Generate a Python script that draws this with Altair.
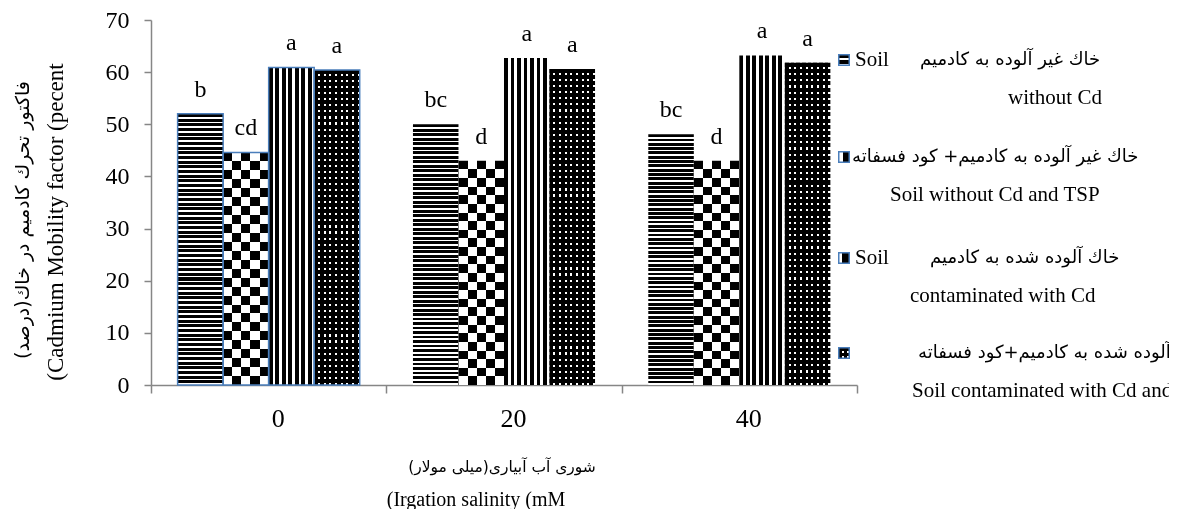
import altair as alt
import pandas as pd

# ---------------- data ----------------
groups = ["0", "20", "40"]
series_ids = ["s1", "s2", "s3", "s4"]
s1_values = [52.0, 50.0, 48.1]
s2_values = [44.6, 43.0, 43.0]
s3_values = [60.9, 62.7, 63.2]
s4_values = [60.4, 60.6, 61.8]
s1_letters = ["b", "bc", "bc"]
s2_letters = ["cd", "d", "d"]
s3_letters = ["a", "a", "a"]
s4_letters = ["a", "a", "a"]
y_ticks = [0, 10, 20, 30, 40, 50, 60, 70]

legend_en1 = ["Soil", "", "Soil", ""]
legend_fa1 = [
    "خاك غير آلوده به كادميم",
    "خاك غير آلوده به كادميم+ كود فسفاته",
    "خاك آلوده شده به كادميم",
    "خاك آلوده شده به كادميم+كود فسفاته",
]
legend_line2 = [
    "without Cd",
    "Soil without Cd and TSP",
    "contaminated with Cd",
    "Soil contaminated with Cd and TSP",
]
y_title = ["فاكتور تحرك كادميم در خاك(درصد)", "(Cadmium Mobility factor (pecent"]
x_title = ["شوری آب آبیاری(میلی مولار)", "(Irgation salinity (mM"]

rows = []
for vals, lets, sid in [(s1_values, s1_letters, "s1"), (s2_values, s2_letters, "s2"),
                        (s3_values, s3_letters, "s3"), (s4_values, s4_letters, "s4")]:
    for g, v, l in zip(groups, vals, lets):
        rows.append({"group": g, "series": sid, "value": v, "letter": l})
df = pd.DataFrame(rows)

# ---------------- pattern gradients ----------------
def stripes(periods, dark_frac, direction, dark="#000000", light="#ffffff", dark_first=True):
    stops = []
    p = 1.0 / periods
    pos = 0.0
    c1, c2 = (dark, light) if dark_first else (light, dark)
    while pos < 1.0 - 1e-9:
        a = pos
        b = min(pos + p * dark_frac, 1.0)
        c = min(pos + p, 1.0)
        stops += [(a, c1), (b, c1), (b, c2), (c, c2)]
        pos += p
    grad = {"gradient": "linear",
            "stops": [{"offset": round(o, 5), "color": col} for o, col in stops]}
    if direction == "h":
        grad.update(x1=0, y1=0, x2=0, y2=1)
    else:
        grad.update(x1=0, y1=0, x2=1, y2=0)
    return grad

G1 = stripes(58, 0.65, "h")
G2A = stripes(2.5, 0.5, "v")
G2B = stripes(13, 0.5, "h")
G3 = stripes(7, 0.6, "v")
G4A = stripes(8, 0.65, "v")
G4B = stripes(52, 0.65, "h")

FONT = "Liberation Serif, DejaVu Sans"
FA_FONT = "DejaVu Sans"
AX = "#868686"
BLUE = "#4a7ebb"

base = alt.Chart(df).encode(
    x=alt.X("group:N", sort=groups,
            scale=alt.Scale(domain=groups, paddingInner=0, paddingOuter=0),
            axis=alt.Axis(title=None, labelAngle=0, labelFontSize=26, labelFont=FONT,
                          labelColor="black", labelPadding=12, labelOffset=9,
                          tickBand="extent", tickSize=8, tickColor=AX, tickWidth=1.5,
                          domainColor=AX, domainWidth=1.5)),
    xOffset=alt.XOffset("series:N",
                        scale=alt.Scale(domain=series_ids, paddingInner=0, paddingOuter=0.585)),
    y=alt.Y("value:Q", scale=alt.Scale(domain=[0, 70], nice=False, zero=True),
            axis=alt.Axis(title=None, values=y_ticks, grid=False, labelFontSize=24,
                          labelFont=FONT, labelColor="black", labelPadding=15,
                          tickSize=7, tickColor=AX, tickWidth=1.5,
                          domainColor=AX, domainWidth=1.5)),
)

def sel(sid):
    return base.transform_filter(alt.datum.series == sid)

l1 = sel("s1").mark_bar(fill=G1)
l2a = sel("s2").mark_bar(fill=G2A)
l2b = sel("s2").mark_bar(fill=G2B, blend="difference")
l3 = sel("s3").mark_bar(fill=G3)
l4a = sel("s4").mark_bar(fill=G4A)
l4b = sel("s4").mark_bar(fill=G4B, blend="multiply")
lstroke = base.mark_bar(fillOpacity=0, strokeWidth=1.5).encode(
    stroke=alt.condition(alt.datum.group == "0", alt.value(BLUE), alt.value("transparent"))
)
ltext = base.mark_text(baseline="alphabetic", dy=-17, fontSize=24, font=FONT,
                       color="black").encode(text="letter:N")

one = alt.Data(values=[{"k": 1}])

def label(text, x, y, size, angle=0, align="center", font=FONT):
    kw = dict(text=text, fontSize=size, font=font, color="black", align=align,
              baseline="middle")
    if angle:
        kw["angle"] = angle
    return alt.Chart(one).mark_text(**kw).encode(x=alt.value(x), y=alt.value(y))

# plot origin is at page (151, 20)
titles = [
    label(y_title[0], -128, 200, 19, angle=270, font=FA_FONT),
    label(y_title[1], -95, 202, 23, angle=270),
    label(x_title[0], 351, 447, 15.5, font=FA_FONT),
    label(x_title[1], 325, 480, 20),
]

# legend
leg_y1 = [40, 137, 238, 333]
leg_en_x = [704, 704, 704, 704]
leg_fa_x = [769, 701, 779, 767]
leg_x2 = [857, 739, 759, 761]
icon_fills = [
    [(stripes(2, 0.7, "h"), None)],
    [(stripes(1, 0.4, "v", dark_first=False), None)],
    [(stripes(1, 0.35, "v", dark="#ffffff", light="#000000", dark_first=True), None)],
    [(stripes(2, 0.6, "v"), None), (stripes(2, 0.6, "h"), "multiply")],
]
legend_layers = []
for i in range(4):
    for g, bl in icon_fills[i]:
        kw = dict(size=110, fill=g, opacity=1, strokeWidth=0)
        if bl:
            kw["blend"] = bl
        legend_layers.append(
            alt.Chart(one).mark_square(**kw).encode(x=alt.value(693), y=alt.value(leg_y1[i]))
        )
    legend_layers.append(
        alt.Chart(one).mark_square(size=110, fillOpacity=0, stroke=BLUE, strokeWidth=1.5,
                                   opacity=1).encode(x=alt.value(693), y=alt.value(leg_y1[i]))
    )
    if legend_en1[i]:
        legend_layers.append(label(legend_en1[i], leg_en_x[i], leg_y1[i], 21, align="left"))
    legend_layers.append(label(legend_fa1[i], leg_fa_x[i], leg_y1[i], 18, align="left",
                               font=FA_FONT))
    legend_layers.append(label(legend_line2[i], leg_x2[i], leg_y1[i] + 38, 21, align="left"))

chart = alt.layer(
    l1, l2a, l2b, l3, l4a, l4b, lstroke, ltext, *titles, *legend_layers
).properties(
    width=706, height=365,
    autosize=alt.AutoSizeParams(type="none"),
    padding={"left": 143, "top": 12, "right": 312, "bottom": 124},
).configure_view(stroke="transparent")

chart.save("out.html", embed_options={"renderer": "svg", "actions": False})
